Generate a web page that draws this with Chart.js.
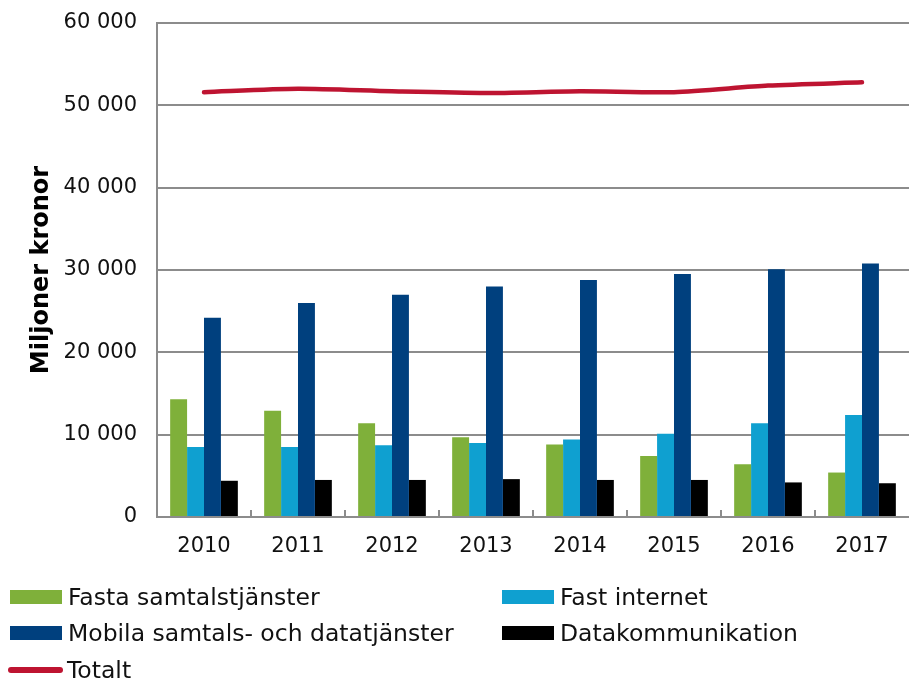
<!DOCTYPE html>
<html>
<head>
<meta charset="utf-8">
<script src="https://cdn.jsdelivr.net/npm/chart.js@4.4.1/dist/chart.umd.min.js"></script>
<style>
  html, body { margin: 0; padding: 0; background: #fff; overflow: hidden; }
  #wrap { position: relative; width: 909px; height: 678px; }
  #c { position: absolute; left: 0; top: 0; }
  .lg { position: absolute; display: flex; align-items: center; font-family: "DejaVu Sans", Verdana, sans-serif; font-size: 23.5px; color: #111; white-space: nowrap; height: 30px; }
  .lg .box { width: 52px; height: 14px; margin-right: 6px; }
  .lg .ln { width: 55px; height: 6px; border-radius: 3px; margin-right: 4px; }
</style>
</head>
<body>
<div id="wrap">
  <canvas id="c" width="909" height="678"></canvas>
  <div id="legend"></div>
</div>
<script>
const years = ['2010', '2011', '2012', '2013', '2014', '2015', '2016', '2017'];
const fastaSamtal = [14300, 12900, 11400, 9700, 8800, 7400, 6400, 5400];
const fastInternet = [8500, 8500, 8700, 9000, 9400, 10100, 11400, 12400];
const mobila = [24200, 26000, 27000, 28000, 28800, 29500, 30100, 30800];
const datakomm = [4400, 4500, 4500, 4600, 4500, 4500, 4200, 4100];
const totalt = [51600, 52000, 51700, 51500, 51700, 51600, 52400, 52800];
const seriesNames = ['Fasta samtalstjänster', 'Fast internet', 'Mobila samtals- och datatjänster', 'Datakommunikation', 'Totalt'];
const yTitle = 'Miljoner kronor';

const colors = ['#7FB03A', '#0FA0D0', '#00407E', '#000000', '#BE1431'];
const gridColor = '#8c8c8c';
const FONT = '"DejaVu Sans", Verdana, sans-serif';

function fmt(v) { return String(v).replace(/\B(?=(\d{3})+(?!\d))/g, ' '); }

const innerTicks = {
  id: 'innerTicks',
  afterDatasetsDraw(chart) {
    const x = chart.scales.x, ctx = chart.ctx;
    const bottom = chart.chartArea.bottom;
    ctx.save();
    ctx.strokeStyle = gridColor;
    ctx.lineWidth = 2;
    for (let i = 1; i < years.length; i++) {
      const px = Math.round((x.getPixelForValue(i - 1) + x.getPixelForValue(i)) / 2);
      ctx.beginPath();
      ctx.moveTo(px, bottom);
      ctx.lineTo(px, bottom - 7);
      ctx.stroke();
    }
    ctx.restore();
  }
};

const barDs = (i, data) => ({
  type: 'bar', label: seriesNames[i], data, backgroundColor: colors[i],
  borderWidth: 0, categoryPercentage: 0.72, barPercentage: 1.0, order: 2
});

const chart = new Chart(document.getElementById('c'), {
  data: {
    labels: years,
    datasets: [
      barDs(0, fastaSamtal),
      barDs(1, fastInternet),
      barDs(2, mobila),
      barDs(3, datakomm),
      { type: 'line', label: seriesNames[4], data: totalt, borderColor: colors[4], backgroundColor: colors[4],
        borderWidth: 4.5, pointRadius: 0, tension: 0.25, borderCapStyle: 'round', order: 1 }
    ]
  },
  options: {
    responsive: false,
    animation: false,
    devicePixelRatio: 1,
    layout: { padding: { top: 23, right: 0, left: 0, bottom: 116 } },
    plugins: { legend: { display: false }, tooltip: { enabled: false } },
    scales: {
      x: {
        grid: { display: false, drawTicks: false },
        border: { display: true, color: gridColor, width: 2 },
        ticks: { font: { family: FONT, size: 21 }, color: '#111', padding: 17, maxRotation: 0 },
        afterFit(s) { s.height = 45; s.paddingLeft = 0; s.paddingRight = 0; }
      },
      y: {
        min: 0, max: 60000,
        ticks: { stepSize: 10000, font: { family: FONT, size: 21 }, color: '#111', padding: 20, callback: v => fmt(v) },
        grid: { color: gridColor, lineWidth: 2, drawTicks: false },
        border: { display: true, color: gridColor, width: 2 },
        title: { display: true, text: yTitle, font: { family: FONT, size: 24, weight: 'bold' }, color: '#000', padding: { top: 27, bottom: 0 } },
        afterFit(s) { s.width = 157; s.paddingTop = 0; s.paddingBottom = 0; }
      }
    }
  },
  plugins: [innerTicks]
});

// HTML legend built from dataset labels/colors
const legend = document.getElementById('legend');
const pos = [
  { left: 10, top: 582 },
  { left: 502, top: 582 },
  { left: 10, top: 618 },
  { left: 502, top: 618 },
  { left: 8, top: 655 }
];
chart.data.datasets.forEach((ds, i) => {
  const d = document.createElement('div');
  d.className = 'lg';
  d.style.left = pos[i].left + 'px';
  d.style.top = pos[i].top + 'px';
  const m = document.createElement('span');
  m.className = ds.type === 'line' ? 'ln' : 'box';
  m.style.background = ds.backgroundColor;
  const t = document.createElement('span');
  t.textContent = ds.label;
  d.appendChild(m); d.appendChild(t);
  legend.appendChild(d);
});
</script>
</body>
</html>
